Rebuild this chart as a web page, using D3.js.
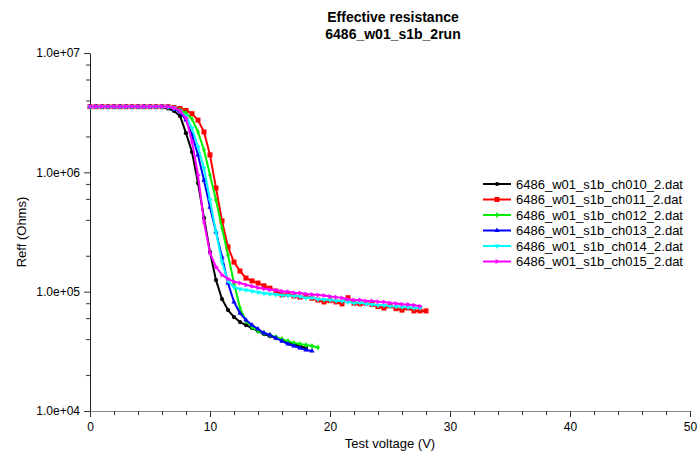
<!DOCTYPE html>
<html>
<head>
<meta charset="utf-8">
<script src="https://cdn.jsdelivr.net/npm/d3@7/dist/d3.min.js"></script>
<style>
  html, body { margin: 0; padding: 0; background: #fff; }
  svg { display: block; font-family: "Liberation Sans", Arial, sans-serif; }
</style>
</head>
<body>
<svg id="chart" width="700" height="454"></svg>
<script>
// Sweep voltages (V), shared by every run
const voltage = [0, 0.5, 1, 1.5, 2, 2.5, 3, 3.5, 4, 4.5, 5, 5.5, 6, 6.5, 7, 7.5, 8, 8.5, 9, 9.5,
  10, 10.5, 11, 11.5, 12, 12.5, 13, 13.5, 14, 14.5, 15, 15.5, 16, 16.5, 17, 17.5, 18, 18.5, 19, 19.5,
  20, 20.5, 21, 21.5, 22, 22.5, 23, 23.5, 24, 24.5, 25, 25.5, 26, 26.5, 27, 27.5, 28];

// Effective resistance (Ohms) per channel
const ch010 = [3.55e6, 3.55e6, 3.55e6, 3.55e6, 3.55e6, 3.55e6, 3.55e6, 3.55e6, 3.55e6, 3.55e6, 3.55e6, 3.54e6, 3.52e6,
  3.43e6, 3.27e6, 2.97e6, 2.13e6, 1.48e6, 8.13e5, 4.14e5, 2.15e5, 1.25e5, 8.67e4, 7.01e4, 6.13e4, 5.56e4, 5.25e4,
  4.95e4, 4.68e4, 4.41e4, 4.24e4, 4.08e4, 3.93e4, 3.78e4, 3.64e4, 3.5e4, 3.37e4];
const ch011 = [3.55e6, 3.55e6, 3.55e6, 3.55e6, 3.55e6, 3.55e6, 3.55e6, 3.55e6, 3.55e6, 3.55e6, 3.55e6, 3.55e6, 3.55e6, 3.55e6,
  3.5e6, 3.43e6, 3.3e6, 3.1e6, 2.74e6, 2.18e6, 1.40e6, 7.39e5, 3.91e5, 2.37e5,
  1.77e5, 1.49e5, 1.30e5, 1.23e5, 1.18e5, 1.12e5, 1.07e5, 1.01e5, 9.4e4, 9.5e4,
  9.2e4, 9.0e4, 9.1e4, 8.8e4, 8.5e4, 8.2e4, 8.4e4, 8.2e4, 7.9e4, 8.9e4,
  8.0e4, 7.9e4, 8.0e4, 7.8e4, 7.5e4, 7.3e4, 7.6e4, 7.2e4, 7.0e4, 7.3e4,
  6.9e4, 6.9e4, 6.9e4];
const ch012 = [3.55e6, 3.55e6, 3.55e6, 3.55e6, 3.55e6, 3.55e6, 3.55e6, 3.55e6, 3.55e6, 3.55e6, 3.55e6, 3.55e6, 3.55e6,
  3.53e6, 3.46e6, 3.33e6, 3.14e6, 2.8e6, 2.18e6, 1.54e6, 9.5e5, 5.86e5, 3.41e5,
  2.03e5, 1.18e5, 7.29e4, 5.67e4, 5.05e4, 4.68e4, 4.5e4, 4.33e4, 4.16e4, 4.0e4,
  3.85e4, 3.71e4, 3.64e4, 3.57e4, 3.5e4, 3.4e4];
const ch013 = [3.55e6, 3.55e6, 3.55e6, 3.55e6, 3.55e6, 3.55e6, 3.55e6, 3.55e6, 3.55e6, 3.55e6, 3.55e6, 3.55e6, 3.55e6,
  3.52e6, 3.4e6, 3.2e6, 2.74e6, 2.06e6, 1.40e6, 8.6e5, 5.1e5, 3.16e5, 1.95e5,
  1.18e5, 8.2e4, 6.6e4, 5.78e4, 5.25e4, 4.86e4, 4.5e4, 4.33e4, 4.08e4, 3.85e4,
  3.64e4, 3.5e4, 3.37e4, 3.24e4, 3.18e4];
const ch014 = [3.55e6, 3.55e6, 3.55e6, 3.55e6, 3.55e6, 3.55e6, 3.55e6, 3.55e6, 3.55e6, 3.55e6, 3.55e6, 3.55e6, 3.55e6, 3.55e6,
  3.46e6, 3.27e6, 2.97e6, 2.35e6, 1.63e6, 1.08e6, 5.86e5, 3.16e5, 1.77e5, 1.23e5,
  1.09e5, 1.05e5, 1.03e5, 1.01e5, 9.9e4, 9.7e4, 9.55e4, 9.45e4, 9.35e4, 9.3e4,
  9.2e4, 9.1e4, 8.85e4, 8.9e4, 8.65e4, 8.6e4, 8.5e4, 8.4e4, 8.35e4, 8.2e4,
  8.05e4, 8.1e4, 7.9e4, 7.8e4, 7.7e4, 7.7e4, 7.55e4, 7.5e4, 7.45e4, 7.4e4,
  7.3e4, 7.3e4];
const ch015 = [3.56e6, 3.56e6, 3.56e6, 3.56e6, 3.56e6, 3.56e6, 3.56e6, 3.56e6, 3.56e6, 3.56e6, 3.56e6, 3.56e6, 3.56e6, 3.56e6,
  3.46e6, 3.27e6, 2.85e6, 1.8e6, 9.5e5, 3.83e5, 2.11e5, 1.61e5, 1.38e5, 1.28e5,
  1.21e5, 1.18e5, 1.14e5, 1.11e5, 1.08e5, 1.06e5, 1.04e5, 1.03e5, 1.01e5, 1.0e5,
  9.8e4, 9.73e4, 9.55e4, 9.45e4, 9.37e4, 9.28e4, 9.1e4, 9.0e4, 8.85e4, 8.65e4,
  8.5e4, 8.5e4, 8.35e4, 8.35e4, 8.25e4, 8.2e4, 8.05e4, 7.95e4, 7.85e4, 7.8e4,
  7.7e4, 7.55e4];

const seriesNames = ["6486_w01_s1b_ch010_2.dat", "6486_w01_s1b_ch011_2.dat", "6486_w01_s1b_ch012_2.dat",
  "6486_w01_s1b_ch013_2.dat", "6486_w01_s1b_ch014_2.dat", "6486_w01_s1b_ch015_2.dat"];
const seriesValues = [ch010, ch011, ch012, ch013, ch014, ch015];
const seriesColors = ["#000000", "#ff0000", "#00ee00", "#0000ff", "#00ffff", "#ff00ff"];

// Axis ticks
const xMajorTicks = [0, 10, 20, 30, 40, 50];
const xMinorTicks = [2, 4, 6, 8, 12, 14, 16, 18, 22, 24, 26, 28, 32, 34, 36, 38, 42, 44, 46, 48];
const yMajorTicks = [1e4, 1e5, 1e6, 1e7];
const yTickLabels = ["1.0e+04", "1.0e+05", "1.0e+06", "1.0e+07"];
const yMinorTicks = [2e4, 4e4, 6e4, 8e4, 2e5, 4e5, 6e5, 8e5, 2e6, 4e6, 6e6, 8e6];

const titleLines = ["Effective resistance", "6486_w01_s1b_2run"];
const xLabel = "Test voltage (V)";
const yLabel = "Reff (Ohms)";

const svg = d3.select("#chart");
const plot = { left: 90, right: 690, top: 53, bottom: 411 };

const x = d3.scaleLinear().domain([0, 50]).range([plot.left, plot.right]);
const y = d3.scaleLog().domain([1e4, 1e7]).range([plot.bottom, plot.top]);

// Title
svg.append("g").selectAll("text").data(titleLines).join("text")
  .attr("x", 393).attr("y", (d, i) => 22 + i * 17)
  .attr("text-anchor", "middle")
  .attr("font-size", 14).attr("font-weight", "bold")
  .attr("fill", "#000")
  .text(d => d);

// X axis: major and minor ticks
const xAxisG = svg.append("g").attr("transform", `translate(0,${plot.bottom})`);
xAxisG.call(d3.axisBottom(x).tickValues(xMajorTicks).tickSize(6).tickSizeOuter(0).tickFormat(d3.format("d")));
xAxisG.select(".domain").attr("stroke", "#8a8a8a");
xAxisG.selectAll(".tick line").attr("stroke", "#333");
xAxisG.selectAll(".tick text").attr("font-size", 12).attr("font-family", "Liberation Sans, Arial, sans-serif").attr("fill", "#000").attr("dy", "0.9em");
const xMinorG = svg.append("g").attr("transform", `translate(0,${plot.bottom})`);
xMinorG.call(d3.axisBottom(x).tickValues(xMinorTicks).tickSize(4).tickFormat(""));
xMinorG.select(".domain").remove();
xMinorG.selectAll(".tick line").attr("stroke", "#333");

// Y axis: decades and minor ticks
const yAxisG = svg.append("g").attr("transform", `translate(${plot.left},0)`);
yAxisG.call(d3.axisLeft(y).tickValues(yMajorTicks).tickSize(6).tickSizeOuter(0)
  .tickFormat((d, i) => yTickLabels[i]));
yAxisG.select(".domain").attr("stroke", "#222");
yAxisG.selectAll(".tick line").attr("stroke", "#333");
yAxisG.selectAll(".tick text").attr("font-size", 12).attr("font-family", "Liberation Sans, Arial, sans-serif").attr("fill", "#000").attr("dx", "-1");
const yMinorG = svg.append("g").attr("transform", `translate(${plot.left},0)`);
yMinorG.call(d3.axisLeft(y).tickValues(yMinorTicks).tickSize(4).tickFormat(""));
yMinorG.select(".domain").remove();
yMinorG.selectAll(".tick line").attr("stroke", "#333");

// Axis titles
svg.append("text").attr("x", 390).attr("y", 448).attr("text-anchor", "middle")
  .attr("font-size", 13).attr("fill", "#000").text(xLabel);
svg.append("text").attr("transform", "translate(26,232) rotate(-90)").attr("text-anchor", "middle")
  .attr("font-size", 13).attr("fill", "#000").text(yLabel);

// Marker shapes per run
const markerTypes = [
  { type: d3.symbolCircle, size: 14, rot: 0 },
  { type: d3.symbolSquare, size: 25, rot: 0 },
  { type: d3.symbolDiamond, size: 11, rot: 0 },
  { type: d3.symbolTriangle, size: 12, rot: 0 },
  { type: d3.symbolTriangle, size: 12, rot: 180 },
  { type: d3.symbolTriangle, size: 11, rot: 90 }
];

const line = d3.line().x(d => x(d[0])).y(d => y(d[1]));

const curves = svg.append("g");
seriesValues.forEach((vals, i) => {
  const pts = vals.map((v, k) => [voltage[k], v]);
  const g = curves.append("g");
  g.append("path").datum(pts)
    .attr("fill", "none").attr("stroke", seriesColors[i])
    .attr("stroke-width", 2).attr("stroke-linejoin", "round")
    .attr("d", line);
  const m = markerTypes[i];
  g.selectAll("path.mk").data(pts).join("path").attr("class", "mk")
    .attr("d", d3.symbol().type(m.type).size(m.size))
    .attr("transform", d => `translate(${x(d[0])},${y(d[1])}) rotate(${m.rot})`)
    .attr("fill", seriesColors[i]);
});

// Legend
const legend = svg.append("g").attr("transform", "translate(483,184)");
seriesNames.forEach((name, i) => {
  const row = legend.append("g").attr("transform", `translate(0,${i * 15.5})`);
  row.append("line").attr("x1", 0).attr("x2", 28).attr("y1", 0).attr("y2", 0)
    .attr("stroke", seriesColors[i]).attr("stroke-width", 2);
  const m = markerTypes[i];
  row.append("path").attr("d", d3.symbol().type(m.type).size(m.size))
    .attr("transform", `translate(14,0) rotate(${m.rot})`).attr("fill", seriesColors[i]);
  row.append("text").attr("x", 33).attr("y", 0).attr("dy", "0.35em")
    .attr("font-size", 13).attr("fill", "#000").text(name);
});
</script>
</body>
</html>
